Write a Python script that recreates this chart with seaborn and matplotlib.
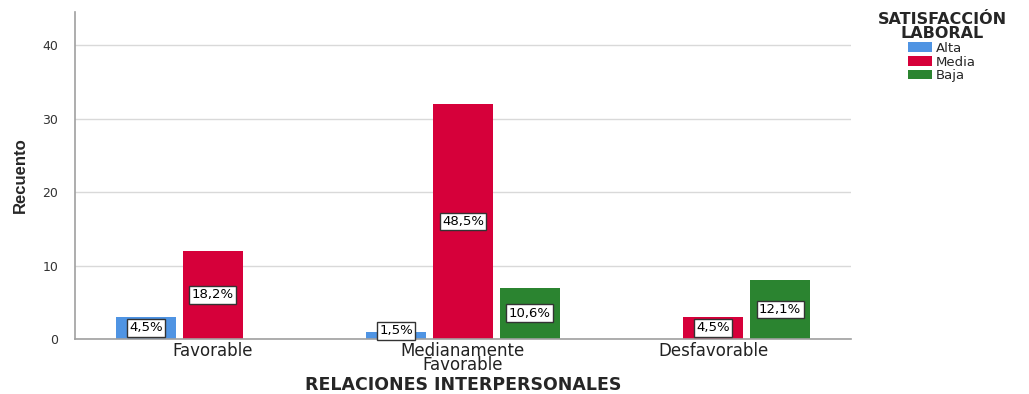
import matplotlib
matplotlib.use("Agg")
import matplotlib.pyplot as plt
import seaborn as sns
import pandas as pd
from matplotlib.patches import Patch

categories = ["Favorable", "Medianamente\nFavorable", "Desfavorable"]
series = ["Alta", "Media", "Baja"]
alta = [3, 1, 0]
media = [12, 32, 3]
baja = [0, 7, 8]
colors = ["#4F94E3", "#D6003A", "#2B8430"]

rows = []
for s, vals in zip(series, [alta, media, baja]):
    for c, v in zip(categories, vals):
        rows.append({"cat": c, "serie": s, "n": v})
df = pd.DataFrame(rows)
total = sum(alta) + sum(media) + sum(baja)

sns.set_style("white")
plt.rcParams["font.family"] = ["DejaVu Sans"]

fig = plt.figure(figsize=(10.29, 3.94), dpi=100)
ax = fig.add_axes([0.0729, 0.1396, 0.827 - 0.0729, 0.9695 - 0.1396])

sns.barplot(data=df, x="cat", y="n", hue="serie", order=categories,
            hue_order=series, palette=colors, width=0.8, gap=0.1,
            saturation=1, linewidth=0, ax=ax, legend=False)

ax.set_xlim(-0.55, 2.55)
ax.set_ylim(0, 44.5)
ax.set_yticks([0, 10, 20, 30, 40])
ax.yaxis.grid(True, color="#D9D9D9", linewidth=1)
ax.set_axisbelow(True)
for sp in ["top", "right"]:
    ax.spines[sp].set_visible(False)
for sp in ["left", "bottom"]:
    ax.spines[sp].set_color("#A0A0A0")
    ax.spines[sp].set_linewidth(1.2)
ax.tick_params(axis="both", length=0)
ax.tick_params(axis="y", labelsize=9, colors="#333333", pad=12)
ax.tick_params(axis="x", labelsize=12, colors="#222222", pad=2)
for t in ax.get_xticklabels():
    t.set_linespacing(0.75)

ax.set_xlabel("RELACIONES INTERPERSONALES", fontsize=12.5, fontweight="bold",
              va="center")
ax.xaxis.set_label_coords(0.5, -0.14)
ax.set_ylabel("Recuento", fontsize=12, fontweight="bold",
              family="Liberation Sans", va="center")
ax.yaxis.set_label_coords(-0.071, 0.5)

for cont in ax.containers:
    for patch in cont:
        h = patch.get_height()
        if h <= 0:
            continue
        pct = f"{h / total * 100:.1f}".replace(".", ",") + "%"
        y = max(h / 2, 1.1)
        ax.text(patch.get_x() + patch.get_width() / 2, y, pct,
                ha="center", va="center", fontsize=9.5, color="black",
                bbox=dict(boxstyle="square,pad=0.18", fc="white",
                          ec="#333333", lw=1))

handles = [Patch(facecolor=c, edgecolor="none") for c in colors]
leg = fig.legend(handles, series, title="SATISFACCIÓN\nLABORAL",
                 loc="upper center", bbox_to_anchor=(0.9155, 0.97),
                 frameon=False, fontsize=9.5, handlelength=1.8,
                 handleheight=0.75, handletextpad=0.3, labelspacing=0.05,
                 borderaxespad=0, borderpad=0)
title = leg.get_title()
title.set_fontweight("bold")
title.set_fontsize(11.5)
title.set_linespacing(0.95)
title.set_multialignment("center")
leg._legend_box.align = "center"

fig.savefig("out.png", dpi=100)
